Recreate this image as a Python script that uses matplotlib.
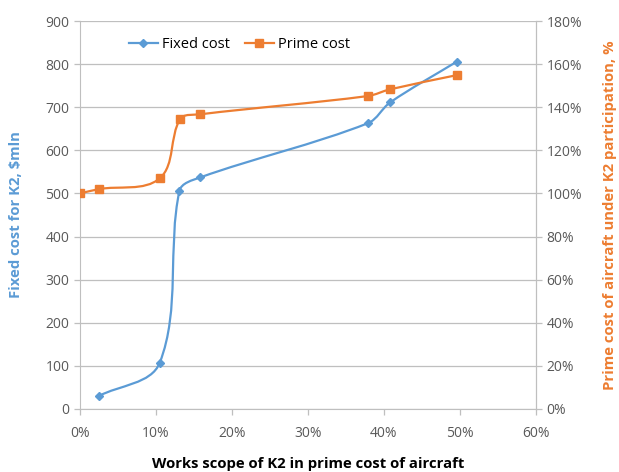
import numpy as np
import matplotlib
matplotlib.use("Agg")
from matplotlib import pyplot as plt
from matplotlib.path import Path
from matplotlib.patches import PathPatch
from matplotlib.lines import Line2D
from matplotlib.ticker import FuncFormatter

plt.rcParams['font.family'] = ['Open Sans', 'DejaVu Sans']

# works scope of K2, % of aircraft prime cost
scope_fixed = [2.5, 10.5, 13.1, 15.8, 37.9, 40.8, 49.6]
fixed_cost = [30, 107, 506, 537, 663, 711, 806]          # $mln

scope_prime = [0.0, 2.5, 10.5, 13.2, 15.8, 37.9, 40.8, 49.6]
prime_cost = [100, 102, 107, 134.5, 136.7, 145.2, 148.3, 154.9]   # %

BLUE = "#5B9BD5"
ORANGE = "#ED7D31"
GRID = "#BFBFBF"
TXT = "#595959"


def smooth_path(a, xs, ys, k=0.33):
    # smoothed line through the points, built in screen space so the
    # tangent lengths follow each segment's on-screen length
    pts = a.transData.transform(np.column_stack([xs, ys]))
    n = len(pts)
    tang = []
    for i in range(n):
        d = pts[min(i + 1, n - 1)] - pts[max(i - 1, 0)]
        tang.append(d / np.hypot(*d))
    verts = [pts[0]]
    codes = [Path.MOVETO]
    for i in range(n - 1):
        p1, p2 = pts[i], pts[i + 1]
        seg = np.hypot(*(p2 - p1)) * k
        verts += [p1 + tang[i] * seg, p2 - tang[i + 1] * seg, p2]
        codes += [Path.CURVE4] * 3
    return Path(a.transData.inverted().transform(np.array(verts)), codes)


fig = plt.figure(figsize=(6.19, 4.72), dpi=100)
ax = fig.add_axes([0.129, 0.1335, 0.737, 0.822])
ax2 = ax.twinx()

ax.set_xlim(0, 60)
ax.set_ylim(0, 900)
ax2.set_ylim(0, 180)

ax.set_yticks(range(0, 901, 100))
ax.set_xticks(range(0, 61, 10))
ax2.set_yticks(range(0, 181, 20))
ax.xaxis.set_major_formatter(FuncFormatter(lambda v, p: "{:d}%".format(int(v))))
ax2.yaxis.set_major_formatter(FuncFormatter(lambda v, p: "{:d}%".format(int(v))))

ax.grid(axis="y", color=GRID, linewidth=0.9)
ax.set_axisbelow(True)
for a in (ax, ax2):
    a.spines["top"].set_visible(False)
    for s in ("left", "right", "bottom"):
        a.spines[s].set_color(GRID)
    a.tick_params(colors=GRID, labelcolor=TXT, labelsize=10, length=4, width=0.9)
ax.tick_params(axis="x", pad=8)
ax2.spines["left"].set_visible(False)
ax2.spines["bottom"].set_visible(False)

# fixed cost on left axis
ax.add_patch(PathPatch(smooth_path(ax, scope_fixed, fixed_cost), fill=False,
                       edgecolor=BLUE, linewidth=1.6, zorder=3))
ax.plot(scope_fixed, fixed_cost, linestyle="none", marker="D", markersize=4,
        color=BLUE, zorder=4)

# prime cost on right axis
ax2.add_patch(PathPatch(smooth_path(ax2, scope_prime, prime_cost), fill=False,
                        edgecolor=ORANGE, linewidth=1.6, zorder=3))
ax2.plot(scope_prime, prime_cost, linestyle="none", marker="s", markersize=5.5,
         color=ORANGE, zorder=4)

ax.set_ylabel("Fixed cost for K2, $mln", color=BLUE, fontweight="bold", fontsize=10.7)
ax2.set_ylabel("Prime cost of aircraft under K2 participation, %", color=ORANGE,
               fontweight="bold", fontsize=10.7)
ax.set_xlabel("Works scope of K2 in prime cost of aircraft", color="black",
              fontweight="bold", fontsize=10.7, labelpad=12)
ax.yaxis.set_label_coords(-0.125, 0.5)
ax2.yaxis.set_label_coords(1.147, 0.5)

handles = [
    Line2D([], [], color=BLUE, marker="D", markersize=4, linewidth=1.6),
    Line2D([], [], color=ORANGE, marker="s", markersize=5.5, linewidth=1.6),
]
ax.legend(handles, ["Fixed cost", "Prime cost"], loc="center",
          bbox_to_anchor=(0.35, 0.94), ncol=2, frameon=False, fontsize=10.5,
          handlelength=2.0, columnspacing=1.0, handletextpad=0.3)

fig.savefig("out.png", dpi=100)
